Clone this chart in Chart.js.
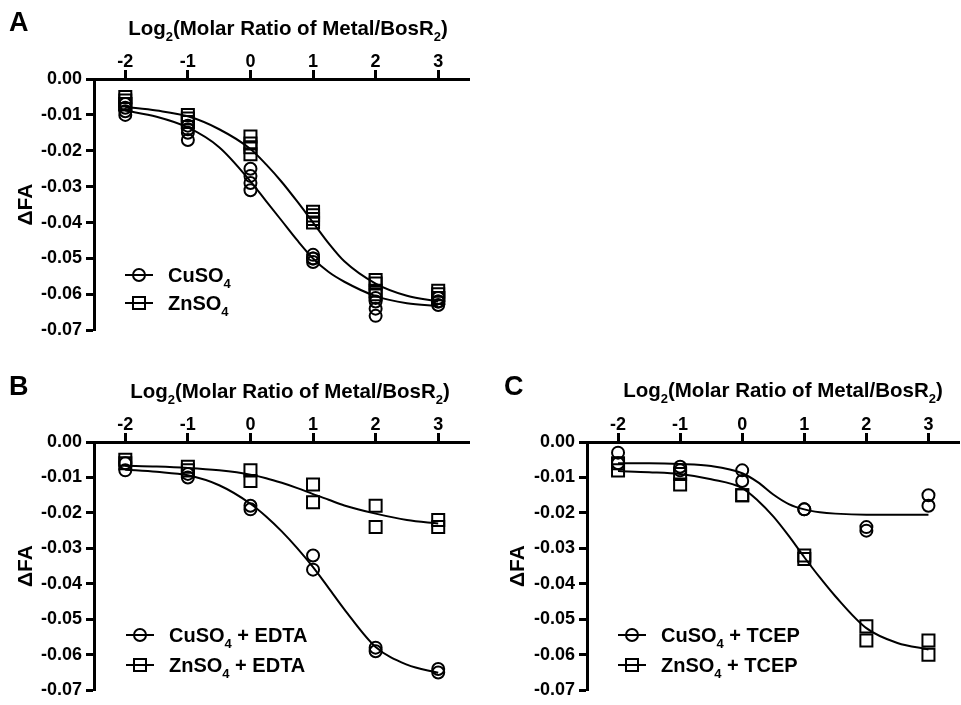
<!DOCTYPE html>
<html>
<head>
<meta charset="utf-8">
<script src="https://cdn.jsdelivr.net/npm/chart.js@4.4.0/dist/chart.umd.min.js"></script>
<style>
body { margin: 0; background: #fff; overflow: hidden; width: 961px; height: 705px; position: relative; }
canvas { position: absolute; }
</style>
</head>
<body>
<canvas id="chartA" width="480" height="345" style="left:0;top:0"></canvas>
<canvas id="chartB" width="480" height="360" style="left:0;top:345px"></canvas>
<canvas id="chartC" width="490" height="360" style="left:480px;top:345px"></canvas>
<script>
const FONT = '"Liberation Sans", Arial, sans-serif';

// doses (log2 molar ratio) and axis ticks
const doses = [-2, -1, 0, 1, 2, 3];
const xTicks = [-2, -1, 0, 1, 2, 3];
const yTicks = [0, -0.01, -0.02, -0.03, -0.04, -0.05, -0.06, -0.07];

// replicate measurements, one list per dose
const cuA = [[-0.007, -0.008, -0.009, -0.010], [-0.013, -0.014, -0.015, -0.017], [-0.025, -0.027, -0.029, -0.031],
             [-0.049, -0.050, -0.050, -0.051], [-0.061, -0.062, -0.064, -0.066], [-0.061, -0.062, -0.062, -0.063]];
const znA = [[-0.005, -0.006, -0.007, -0.007], [-0.010, -0.011, -0.012, -0.012], [-0.016, -0.018, -0.019, -0.021],
             [-0.037, -0.038, -0.039, -0.040], [-0.056, -0.057, -0.059, -0.060], [-0.059, -0.060, -0.061, -0.061]];
const cuB = [[-0.006, -0.008], [-0.009, -0.010], [-0.018, -0.019], [-0.032, -0.036], [-0.058, -0.059], [-0.064, -0.065]];
const znB = [[-0.005, -0.006], [-0.007, -0.008], [-0.008, -0.011], [-0.012, -0.017], [-0.018, -0.024], [-0.022, -0.024]];
const cuC = [[-0.003, -0.006], [-0.007, -0.008], [-0.008, -0.011], [-0.019, -0.019], [-0.024, -0.025], [-0.015, -0.018]];
const znC = [[-0.006, -0.008], [-0.009, -0.012], [-0.015, -0.015], [-0.032, -0.033], [-0.052, -0.056], [-0.056, -0.060]];

// fitted curves
const fitX = [-2, -1.5, -1, -0.5, 0, 0.25, 0.5, 0.75, 1, 1.25, 1.5, 2, 2.5, 3];
const cuFitA = [-0.0088, -0.0105, -0.0135, -0.0190, -0.0285, -0.0340, -0.0395, -0.0450, -0.0500, -0.0538, -0.0565, -0.0605, -0.0625, -0.0633];
const znFitA = [-0.0078, -0.0088, -0.0104, -0.0140, -0.0195, -0.0238, -0.0287, -0.0342, -0.0400, -0.0458, -0.0508, -0.0570, -0.0604, -0.0620];
const cuFitB = [-0.0078, -0.0084, -0.0094, -0.0122, -0.0174, -0.0210, -0.0252, -0.0300, -0.0353, -0.0412, -0.0472, -0.0578, -0.0628, -0.0651];
const znFitB = [-0.0067, -0.0069, -0.0073, -0.0080, -0.0092, -0.0102, -0.0115, -0.0130, -0.0147, -0.0163, -0.0179, -0.0202, -0.0220, -0.0230];
const cuFitC = [-0.0060, -0.0060, -0.0062, -0.0068, -0.0088, -0.0113, -0.0148, -0.0175, -0.0190, -0.0198, -0.0202, -0.0205, -0.0205, -0.0205];
const znFitC = [-0.0082, -0.0085, -0.0090, -0.0105, -0.0130, -0.0165, -0.0210, -0.0265, -0.0325, -0.0382, -0.0435, -0.0525, -0.0567, -0.0585];

const xTitle = 'Log_2(Molar Ratio of Metal/BosR_2)';

function toPoints(reps) {
    return doses.flatMap((x, i) => reps[i].map(y => ({ x: x, y: y })));
}
function toCurve(ys) {
    return fitX.map((x, i) => ({ x: x, y: ys[i] }));
}

// text with "_n" subscripts
function drawRich(ctx, text, x, y, size, align) {
    const parts = text.split(/_(\d)/);
    const subSize = Math.round(size * 0.65);
    let w = 0;
    parts.forEach((p, i) => {
        ctx.font = 'bold ' + (i % 2 ? subSize : size) + 'px ' + FONT;
        w += ctx.measureText(p).width;
    });
    let cx = align === 'center' ? x - w / 2 : x;
    ctx.textAlign = 'left';
    ctx.textBaseline = 'alphabetic';
    parts.forEach((p, i) => {
        const sub = i % 2 === 1;
        ctx.font = 'bold ' + (sub ? subSize : size) + 'px ' + FONT;
        ctx.fillText(p, cx, sub ? y + size * 0.3 : y);
        cx += ctx.measureText(p).width;
    });
}

function marker(ctx, style, x, y) {
    ctx.beginPath();
    if (style === 'circle') ctx.arc(x, y, 6, 0, Math.PI * 2);
    else ctx.rect(x - 6, y - 6, 12, 12);
    ctx.stroke();
}

function makePanel(id, p) {
    const labelsPlugin = {
        id: 'panelText',
        afterDraw(chart) {
            const ctx = chart.ctx;
            ctx.save();
            ctx.fillStyle = '#000';
            ctx.strokeStyle = '#000';
            ctx.font = 'bold 27px ' + FONT;
            ctx.textAlign = 'left';
            ctx.fillText(p.letter, p.letterX, p.letterY);
            drawRich(ctx, xTitle, p.titleX, p.titleY, 20.5, 'center');
            // y title
            ctx.save();
            ctx.translate(p.yTitleX, (chart.chartArea.top + chart.chartArea.bottom) / 2);
            ctx.rotate(-Math.PI / 2);
            ctx.font = 'bold 21px ' + FONT;
            ctx.textAlign = 'center';
            ctx.fillText('\u0394FA', 0, 7);
            ctx.restore();
            // legend
            ctx.lineWidth = 2;
            p.legend.forEach((item, i) => {
                const y = p.legendY + i * p.legendGap;
                ctx.beginPath();
                ctx.moveTo(p.legendX, y);
                ctx.lineTo(p.legendX + 28, y);
                ctx.stroke();
                marker(ctx, item.style, p.legendX + 14, y);
                drawRich(ctx, item.text, p.legendX + 43, y + 7, 20, 'left');
            });
            ctx.restore();
        }
    };

    const datasets = [
        { data: toCurve(p.fit1), showLine: true, pointRadius: 0, borderColor: '#000', borderWidth: 2, cubicInterpolationMode: 'monotone' },
        { data: toCurve(p.fit2), showLine: true, pointRadius: 0, borderColor: '#000', borderWidth: 2, cubicInterpolationMode: 'monotone' },
        { data: toPoints(p.pts1), showLine: false, pointStyle: 'circle', pointRadius: 6, pointBorderWidth: 2,
          pointBorderColor: '#000', pointBackgroundColor: 'rgba(0,0,0,0)' },
        { data: toPoints(p.pts2), showLine: false, pointStyle: 'rect', pointRadius: 8.5, pointBorderWidth: 2,
          pointBorderColor: '#000', pointBackgroundColor: 'rgba(0,0,0,0)' }
    ];

    new Chart(id, {
        type: 'scatter',
        data: { datasets: datasets },
        options: {
            responsive: false,
            animation: false,
            events: [],
            layout: { padding: { left: 0, top: 0, right: p.padRight, bottom: p.padBottom } },
            plugins: { legend: { display: false }, tooltip: { enabled: false } },
            scales: {
                x: {
                    type: 'linear', position: 'top', min: -2.5, max: 3.5,
                    afterBuildTicks: s => { s.ticks = xTicks.map(v => ({ value: v })); },
                    afterFit: s => { s.height = p.xAxisH; },
                    grid: { drawOnChartArea: false, drawTicks: true, tickLength: 9, tickWidth: 3, tickColor: '#000' },
                    border: { display: true, color: '#000', width: 3 },
                    ticks: { color: '#000', padding: -3, maxRotation: 0, font: { family: FONT, size: 18, weight: 'bold' } }
                },
                y: {
                    type: 'linear', min: -0.07, max: 0,
                    afterBuildTicks: s => { s.ticks = yTicks.map(v => ({ value: v })); },
                    afterFit: s => { s.width = p.yAxisW; },
                    grid: { drawOnChartArea: false, drawTicks: true, tickLength: 8, tickWidth: 3, tickColor: '#000' },
                    border: { display: true, color: '#000', width: 3 },
                    ticks: { color: '#000', padding: 4, callback: v => v.toFixed(2), font: { family: FONT, size: 18, weight: 'bold' } }
                }
            }
        },
        plugins: [labelsPlugin]
    });
}

makePanel('chartA', {
    pts1: cuA, pts2: znA, fit1: cuFitA, fit2: znFitA,
    xAxisH: 79, yAxisW: 94, padRight: 5, padBottom: 12,
    letter: 'A', letterX: 9, letterY: 31, titleX: 288, titleY: 35, yTitleX: 25,
    legendX: 125, legendY: 275, legendGap: 28,
    legend: [{ style: 'circle', text: 'CuSO_4' }, { style: 'rect', text: 'ZnSO_4' }]
});

makePanel('chartB', {
    pts1: cuB, pts2: znB, fit1: cuFitB, fit2: znFitB,
    xAxisH: 97, yAxisW: 94, padRight: 5, padBottom: 9,
    letter: 'B', letterX: 9, letterY: 50, titleX: 290, titleY: 53, yTitleX: 25,
    legendX: 126, legendY: 290, legendGap: 30,
    legend: [{ style: 'circle', text: 'CuSO_4 + EDTA' }, { style: 'rect', text: 'ZnSO_4 + EDTA' }]
});

makePanel('chartC', {
    pts1: cuC, pts2: znC, fit1: cuFitC, fit2: znFitC,
    xAxisH: 97, yAxisW: 107, padRight: 0, padBottom: 8,
    letter: 'C', letterX: 24, letterY: 50, titleX: 303, titleY: 52, yTitleX: 37,
    legendX: 138, legendY: 290, legendGap: 30,
    legend: [{ style: 'circle', text: 'CuSO_4 + TCEP' }, { style: 'rect', text: 'ZnSO_4 + TCEP' }]
});
</script>
</body>
</html>
